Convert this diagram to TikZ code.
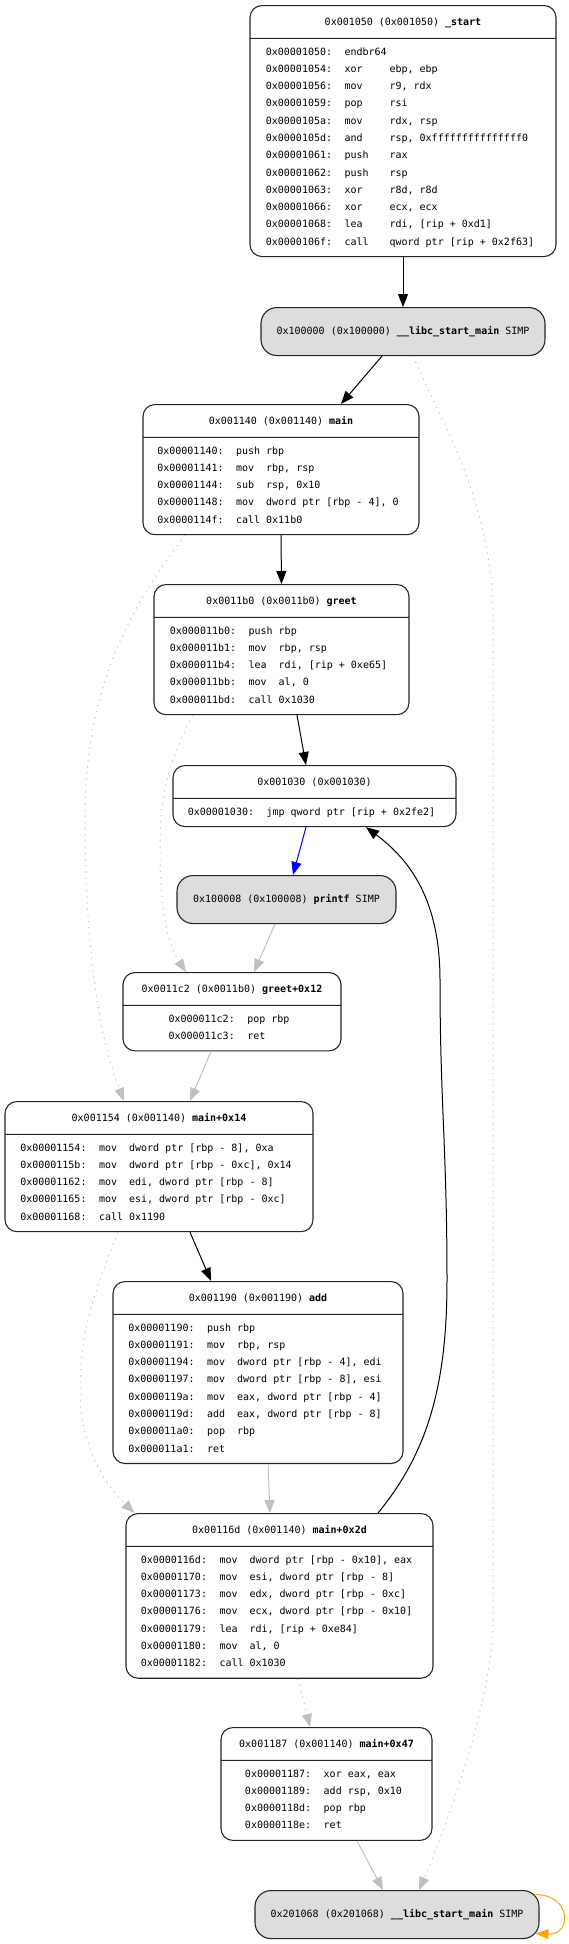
\documentclass[tikz,border=0pt]{standalone}
\usepackage{fontspec}
\setmonofont{DejaVu Sans Mono}[WordSpace={1,0,0}]
\usetikzlibrary{shapes.multipart,arrows.meta}
\definecolor{simpgray}{RGB}{221,221,221}
\definecolor{edgegray}{RGB}{192,192,192}
\definecolor{looporange}{RGB}{255,165,0}
\newcommand{\listfont}{\ttfamily\fontsize{10pt}{17.27pt}\selectfont}
% address / mnemonic / operands
\newcommand{\insns}[2]{\vspace*{-4.5pt}\spaceskip=0pt\relax
  \raisebox{3pt}[\height][\depth]{\begin{tabular}{@{}l@{\hspace{12.5pt}}p{#1}@{}l@{\hspace{6pt}}}#2\end{tabular}}}
\newcommand{\blocktitle}[1]{\spaceskip=0pt\relax\strut #1}

\begin{document}
\begin{tikzpicture}[x=1pt, y=-1pt,
    every node/.style={font=\listfont},
    block/.style={draw=black!85, line width=1.1pt, rounded corners=12pt,
      rectangle split, rectangle split parts=2, text width=#1,
      inner xsep=0pt, inner ysep=7.2pt, align=flush center, anchor=north},
    simp/.style={draw=black!85, line width=1.1pt, fill=simpgray, rounded corners=16pt,
      minimum width=#1, minimum height=48pt, inner sep=0pt, anchor=north},
    flow/.style={-{Triangle[length=13pt,width=10pt]}, line width=1pt},
    grayflow/.style={flow, edgegray},
    dotflow/.style={flow, edgegray, dash pattern=on 1.2pt off 5pt}]
  \useasboundingbox (0,0) rectangle (569,1944);

  \node[block=306pt] at (403,5) (start) {\blocktitle{0x001050 (0x001050) \textbf{\_start}}
    \nodepart{two}\insns{45pt}{
      0x00001050: & endbr64 & \\
      0x00001054: & xor & ebp, ebp \\
      0x00001056: & mov & r9, rdx \\
      0x00001059: & pop & rsi \\
      0x0000105a: & mov & rdx, rsp \\
      0x0000105d: & and & rsp, 0xfffffffffffffff0 \\
      0x00001061: & push & rax \\
      0x00001062: & push & rsp \\
      0x00001063: & xor & r8d, r8d \\
      0x00001066: & xor & ecx, ecx \\
      0x00001068: & lea & rdi, [rip + 0xd1] \\
      0x0000106f: & call & qword ptr [rip + 0x2f63]}};
  \node[simp=284pt] at (403,307) (libcA) {0x100000 (0x100000) \textbf{\_\_libc\_start\_main} SIMP};
  \node[block=276pt] at (281,404) (main) {\blocktitle{0x001140 (0x001140) \textbf{main}}
    \nodepart{two}\insns{30.1pt}{
      0x00001140: & push & rbp \\
      0x00001141: & mov & rbp, rsp \\
      0x00001144: & sub & rsp, 0x10 \\
      0x00001148: & mov & dword ptr [rbp - 4], 0 \\
      0x0000114f: & call & 0x11b0}};
  \node[block=255pt] at (281.5,584) (greet) {\blocktitle{0x0011b0 (0x0011b0) \textbf{greet}}
    \nodepart{two}\insns{30.1pt}{
      0x000011b0: & push & rbp \\
      0x000011b1: & mov & rbp, rsp \\
      0x000011b4: & lea & rdi, [rip + 0xe65] \\
      0x000011bb: & mov & al, 0 \\
      0x000011bd: & call & 0x1030}};
  \node[block=283pt] at (314.5,765) (plt) {\blocktitle{0x001030 (0x001030)}
    \nodepart{two}\insns{24.1pt}{
      0x00001030: & jmp & qword ptr [rip + 0x2fe2]}};
  \node[simp=219pt] at (286.5,875) (printf) {0x100008 (0x100008) \textbf{printf} SIMP};
  \node[block=218pt] at (232,972) (greetret) {\blocktitle{0x0011c2 (0x0011b0) \textbf{greet+0x12}}
    \nodepart{two}\insns{24.1pt}{
      0x000011c2: & pop & rbp \\
      0x000011c3: & ret & }};
  \node[block=308pt] at (159,1101) (mainA) {\blocktitle{0x001154 (0x001140) \textbf{main+0x14}}
    \nodepart{two}\insns{30.1pt}{
      0x00001154: & mov & dword ptr [rbp - 8], 0xa \\
      0x0000115b: & mov & dword ptr [rbp - 0xc], 0x14 \\
      0x00001162: & mov & edi, dword ptr [rbp - 8] \\
      0x00001165: & mov & esi, dword ptr [rbp - 0xc] \\
      0x00001168: & call & 0x1190}};
  \node[block=290pt] at (258,1281) (add) {\blocktitle{0x001190 (0x001190) \textbf{add}}
    \nodepart{two}\insns{30.1pt}{
      0x00001190: & push & rbp \\
      0x00001191: & mov & rbp, rsp \\
      0x00001194: & mov & dword ptr [rbp - 4], edi \\
      0x00001197: & mov & dword ptr [rbp - 8], esi \\
      0x0000119a: & mov & eax, dword ptr [rbp - 4] \\
      0x0000119d: & add & eax, dword ptr [rbp - 8] \\
      0x000011a0: & pop & rbp \\
      0x000011a1: & ret & }};
  \node[block=307pt] at (279.5,1513) (mainB) {\blocktitle{0x00116d (0x001140) \textbf{main+0x2d}}
    \nodepart{two}\insns{30.1pt}{
      0x0000116d: & mov & dword ptr [rbp - 0x10], eax \\
      0x00001170: & mov & esi, dword ptr [rbp - 8] \\
      0x00001173: & mov & edx, dword ptr [rbp - 0xc] \\
      0x00001176: & mov & ecx, dword ptr [rbp - 0x10] \\
      0x00001179: & lea & rdi, [rip + 0xe84] \\
      0x00001180: & mov & al, 0 \\
      0x00001182: & call & 0x1030}};
  \node[block=211pt] at (326.5,1727) (mainC) {\blocktitle{0x001187 (0x001140) \textbf{main+0x47}}
    \nodepart{two}\insns{24.1pt}{
      0x00001187: & xor & eax, eax \\
      0x00001189: & add & rsp, 0x10 \\
      0x0000118d: & pop & rbp \\
      0x0000118e: & ret & }};
  \node[simp=284pt] at (397,1890) (libcB) {0x201068 (0x201068) \textbf{\_\_libc\_start\_main} SIMP};

  % calls and jumps
  \draw[flow] (start.south) -- (libcA.north);
  \draw[flow] ([xshift=-21pt]libcA.south) -- ([xshift=60pt]main.north);
  \draw[flow] (main.south) -- (greet.north);
  \draw[flow] ([xshift=15.5pt]greet.south) -- ([xshift=-8.5pt]plt.north);
  \draw[flow, blue] ([xshift=-8.5pt]plt.south) -- ([xshift=6.5pt]printf.north);
  \draw[flow] ([xshift=31pt]mainA.south) -- ([xshift=-47pt]add.north);
  \draw[flow] ([xshift=98.5pt]mainB.north) .. controls (430,1450) and (447,1380) .. (447,1280)
    .. controls (447,1150) and (440,1100) .. (440,980)
    .. controls (440,900) and (410,860) .. ([xshift=51.5pt]plt.south);

  % returns
  \draw[grayflow] ([xshift=-11.5pt]printf.south) -- ([xshift=22pt]greetret.north);
  \draw[grayflow] ([xshift=-21pt]greetret.south) -- ([xshift=31pt]mainA.north);
  \draw[grayflow] ([xshift=10pt]add.south) -- ([xshift=-9.5pt]mainB.north);
  \draw[grayflow] ([xshift=30.5pt]mainC.south) -- ([xshift=-14pt]libcB.north);

  % fall-through after calls
  \draw[dotflow] ([xshift=10pt]libcA.south) .. controls (440,420) and (493,500) .. (493,620)
    -- (493,1620) .. controls (493,1700) and (445,1830) .. ([xshift=22pt]libcB.north);
  \draw[dotflow] ([xshift=-96pt]main.south) .. controls (120,620) and (85,700) .. (85,820)
    .. controls (85,950) and (100,1040) .. ([xshift=-35pt]mainA.north);
  \draw[dotflow] ([xshift=-89pt]greet.south) .. controls (165,770) and (160,800) .. (160,850)
    .. controls (160,910) and (168,945) .. ([xshift=-46pt]greetret.north);
  \draw[dotflow] ([xshift=-41pt]mainA.south) .. controls (90,1300) and (80,1340) .. (80,1390)
    .. controls (80,1440) and (100,1480) .. ([xshift=-145pt]mainB.north);
  \draw[dotflow] ([xshift=18.5pt]mainB.south) -- ([xshift=-16.5pt]mainC.north);

  \draw[flow, looporange] ([xshift=-4pt,yshift=20pt]libcB.east) .. controls (572,1895) and (572,1935) .. ([xshift=-4pt,yshift=-19pt]libcB.east);
\end{tikzpicture}
\end{document}
